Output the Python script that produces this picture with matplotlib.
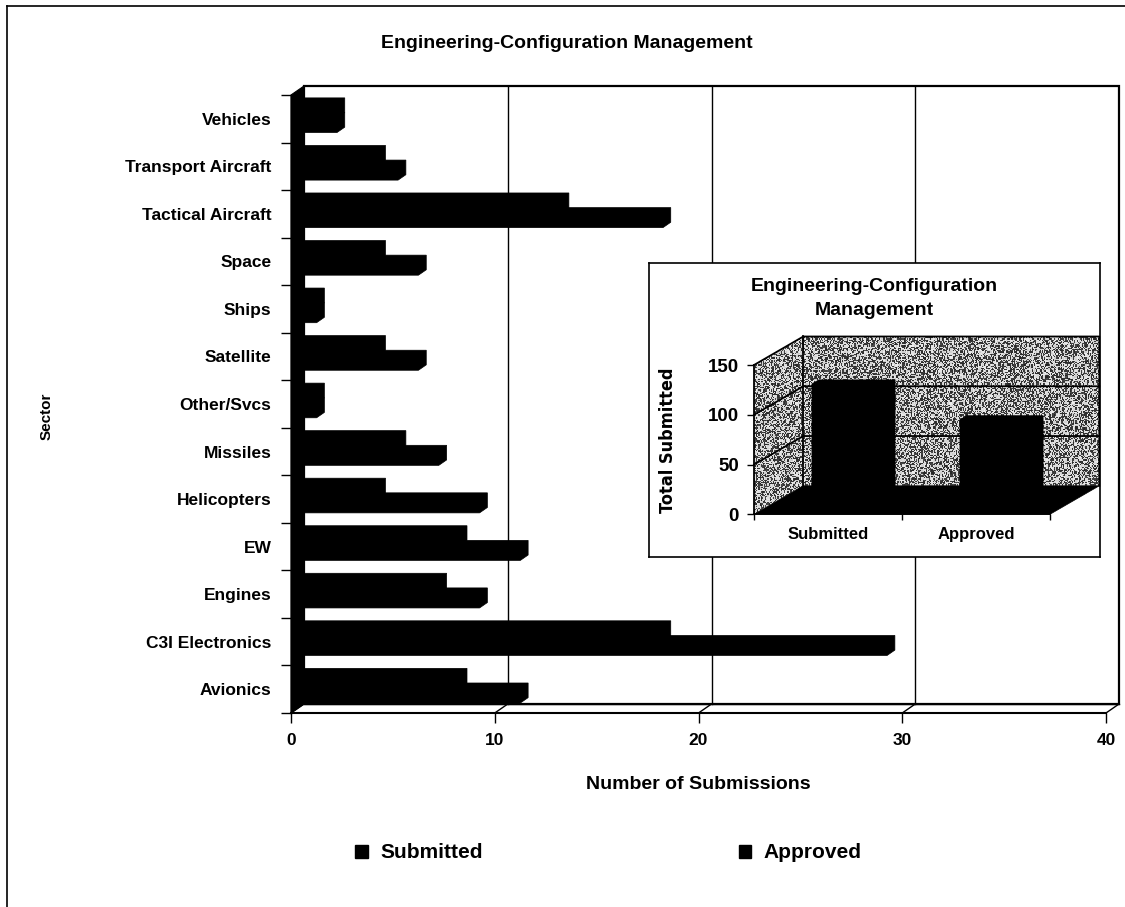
import numpy as np
import matplotlib
matplotlib.use("Agg")
import matplotlib.pyplot as plt
from matplotlib.patches import Polygon, Patch
from matplotlib.lines import Line2D
from matplotlib import font_manager

# ---- data -------------------------------------------------------------
sectors = ["Avionics", "C3I Electronics", "Engines", "EW", "Helicopters",
           "Missiles", "Other/Svcs", "Satellite", "Ships", "Space",
           "Tactical Aircraft", "Transport Aircraft", "Vehicles"]
submitted = [11, 29, 9, 11, 9, 7, 1, 6, 1, 6, 18, 5, 2]
approved = [8, 18, 7, 8, 4, 5, 1, 4, 1, 4, 13, 4, 2]
series_names = ["Submitted", "Approved"]
x_ticks = [0, 10, 20, 30, 40]
inset_ticks = [0, 50, 100, 150]
totals = [sum(submitted), sum(approved)]

plt.rcParams['font.family'] = ['Liberation Sans', 'DejaVu Sans']

W, H = 1125, 907
fig = plt.figure(figsize=(W / 100, H / 100), dpi=100)
fig.patch.set_facecolor('white')


def fbox(x0, y0, x1, y1):
    """pixel box (top-left origin) -> figure fraction rect"""
    return [x0 / W, 1 - y1 / H, (x1 - x0) / W, (y1 - y0) / H]


# ---- main 3-D style bar chart ----------------------------------------
ax = fig.add_axes(fbox(291, 95, 1106, 713))
ax.set_facecolor('none')
ax.set_xlim(x_ticks[0], x_ticks[-1])
ax.set_ylim(0, len(sectors))
ncat = len(sectors)
xmax = x_ticks[-1]
# depth of the box in data units
DX = 13 / (815 / xmax)
DY = 9 / (618 / ncat)

# back wall + gridlines
ax.fill([DX, xmax + DX, xmax + DX, DX], [DY, DY, ncat + DY, ncat + DY],
        facecolor='white', edgecolor='black', lw=1.6, zorder=1, clip_on=False)
for v in x_ticks[1:-1]:
    ax.plot([v + DX, v + DX], [DY, ncat + DY], color='black', lw=1.0,
            zorder=1.2, clip_on=False)
# floor
for v in x_ticks:
    ax.plot([v, v + DX], [0, DY], color='black', lw=1.0, zorder=1.2, clip_on=False)
ax.plot([DX, xmax + DX], [DY, DY], color='black', lw=1.0, zorder=1.2, clip_on=False)
# left wall
ax.fill([0, DX, DX, 0], [0, DY, ncat + DY, ncat], color='black', lw=0.8,
        zorder=3, clip_on=False)

# bars: Submitted below, Approved above in each sector band
ZF, ZB = 0.4, 1.0
BOT, BH = 0.134, 0.308
for i, pair in enumerate(zip(submitted, approved)):
    for k, v in enumerate(pair):
        y0 = i + BOT + k * BH
        y1 = y0 + BH
        xs = [ZF * DX, v + ZF * DX, v + ZB * DX, v + ZB * DX, ZB * DX, ZF * DX]
        ys = [y0 + ZF * DY, y0 + ZF * DY, y0 + ZB * DY, y1 + ZB * DY,
              y1 + ZB * DY, y1 + ZF * DY]
        ax.fill(xs, ys, color='black', lw=0.5, zorder=2.5, clip_on=False)

for side in ('top', 'right'):
    ax.spines[side].set_visible(False)
ax.spines['bottom'].set_linewidth(1.5)
ax.spines['left'].set_linewidth(1.0)

ax.set_xticks(x_ticks)
ax.tick_params(axis='x', direction='out', length=7.5, width=1.0, pad=7,
               labelsize=12.5)
for lab in ax.get_xticklabels():
    lab.set_fontweight('bold')

ax.set_yticks(range(ncat + 1))
ax.set_yticklabels([''] * (ncat + 1))
ax.set_yticks(np.arange(ncat) + 0.5, minor=True)
ax.set_yticklabels(sectors, minor=True)
ax.tick_params(axis='y', which='major', direction='out', length=7.5, width=1.0)
ax.tick_params(axis='y', which='minor', length=0, pad=14, labelsize=12.5)
for lab in ax.get_yticklabels(minor=True):
    lab.set_fontweight('bold')

ax.set_xlabel("Number of Submissions", fontsize=14, fontweight='bold',
              labelpad=20)
fig.text(47 / W, 1 - 416 / H, "Sector", rotation=90, ha='center', va='center',
         fontsize=11, fontweight='bold')
fig.text(567 / W, 1 - 43 / H, "Engineering-Configuration Management",
         ha='center', va='center', fontsize=14, fontweight='bold')

# ---- inset: totals ----------------------------------------------------
box = fig.add_axes(fbox(649, 263, 1100, 557))
box.set_zorder(5)
box.set_facecolor('white')
box.set_xticks([])
box.set_yticks([])
for s in box.spines.values():
    s.set_linewidth(1.2)

iax = fig.add_axes(fbox(754, 365, 1050, 514.3))
iax.set_zorder(6)
iax.set_facecolor('none')
nb = len(series_names)
ymax = inset_ticks[-1]
IDX = 49.3 / (296 / nb)
IDY = 28.5 * ymax / 149.3

# stippled walls
rng = np.random.default_rng(11)
dots = rng.random((150, 310))
tex = np.where(dots < 0.47, 0.22, 0.86) + 0.15 * (rng.random(dots.shape) - 0.5)
im = iax.imshow(tex, cmap='gray', vmin=0, vmax=1, interpolation='nearest',
                extent=(0, nb + IDX, 0, ymax + IDY), aspect='auto', zorder=1)
walls = Polygon([(0, 0), (IDX, IDY), (nb + IDX, IDY), (nb + IDX, ymax + IDY),
                 (IDX, ymax + IDY), (0, ymax)], closed=True,
                facecolor='none', edgecolor='none', transform=iax.transData)
iax.add_patch(walls)
im.set_clip_path(walls)
im.set_clip_box(box.bbox)
walls.set_clip_on(False)

lw_i = 1.3
# wall edges and gridlines
iax.plot([0, IDX, nb + IDX, nb + IDX], [ymax, ymax + IDY, ymax + IDY, IDY],
         color='black', lw=lw_i, zorder=2, clip_on=False)
iax.plot([IDX, IDX], [IDY, ymax + IDY], color='black', lw=lw_i, zorder=2,
         clip_on=False)
for v in inset_ticks[1:-1]:
    iax.plot([0, IDX, nb + IDX], [v, v + IDY, v + IDY], color='black', lw=lw_i,
             zorder=2, clip_on=False)
# floor
iax.fill([0, nb, nb + IDX, IDX], [0, 0, IDY, IDY], color='black', lw=0.5,
         zorder=2.2, clip_on=False)

IZF, IZB = 0.56, 0.70
BX0, BX1 = 0.205, 0.72
for c, v in enumerate(totals):
    x0, x1 = c + BX0, c + BX1
    xs = [x0 + IZF * IDX, x0 + IZF * IDX, x0 + IZB * IDX, x1 + IZB * IDX,
          x1 + IZB * IDX, x0 + IZF * IDX]
    ys = [IZF * IDY, v + IZF * IDY, v + IZB * IDY, v + IZB * IDY,
          IZB * IDY, IZF * IDY]
    iax.fill(xs, ys, color='black', lw=0.5, zorder=3, clip_on=False)

iax.set_xlim(0, nb)
iax.set_ylim(0, ymax)
for side in ('top', 'right'):
    iax.spines[side].set_visible(False)
for side in ('left', 'bottom'):
    iax.spines[side].set_linewidth(lw_i)
    iax.spines[side].set_zorder(4)
iax.set_yticks(inset_ticks)
iax.tick_params(axis='y', direction='out', length=5, width=1.0, pad=6,
                labelsize=13.5)
iax.set_xticks(range(nb + 1))
iax.set_xticklabels([''] * (nb + 1))
iax.set_xticks(np.arange(nb) + 0.5, minor=True)
iax.set_xticklabels(series_names, minor=True)
iax.tick_params(axis='x', which='major', direction='out', length=4, width=1.0)
iax.tick_params(axis='x', which='minor', length=0, pad=9, labelsize=12)
for lab in iax.get_yticklabels() + iax.get_xticklabels(minor=True):
    lab.set_fontweight('bold')

fig.text(874 / W, 1 - 298.5 / H, "Engineering-Configuration\nManagement",
         ha='center', va='center', fontsize=14, fontweight='bold',
         linespacing=1.5, zorder=10)

# condensed face for the inset axis title
names = {f.name for f in font_manager.fontManager.ttflist}
if 'Liberation Sans Narrow' in names:
    narrow = dict(family=['Liberation Sans Narrow'], fontsize=15.5)
else:
    narrow = dict(family=['DejaVu Sans'], fontstretch='condensed', fontsize=13)
fig.text(668 / W, 1 - 440 / H, "Total Submitted", rotation=90, ha='center',
         va='center', fontweight='bold', zorder=10, **narrow)

# ---- legend -------------------------------------------------------------
handles = [Patch(facecolor='black', edgecolor='black') for _ in series_names]
fig.legend(handles, series_names, loc='center left',
           bbox_to_anchor=(355 / W, 1 - 853 / H), ncol=2, frameon=False,
           prop={'weight': 'bold', 'size': 15}, handlelength=0.6,
           handleheight=0.6, handletextpad=0.6, columnspacing=12.3,
           borderaxespad=0, borderpad=0)

# outer frame (top and left edges)
fig.add_artist(Line2D([7 / W, 7 / W], [0, 1 - 6 / H], transform=fig.transFigure,
                      color='black', lw=1.2))
fig.add_artist(Line2D([7 / W, 1], [1 - 6 / H, 1 - 6 / H],
                      transform=fig.transFigure, color='black', lw=1.2))

fig.savefig("out.png", dpi=100, facecolor='white')
